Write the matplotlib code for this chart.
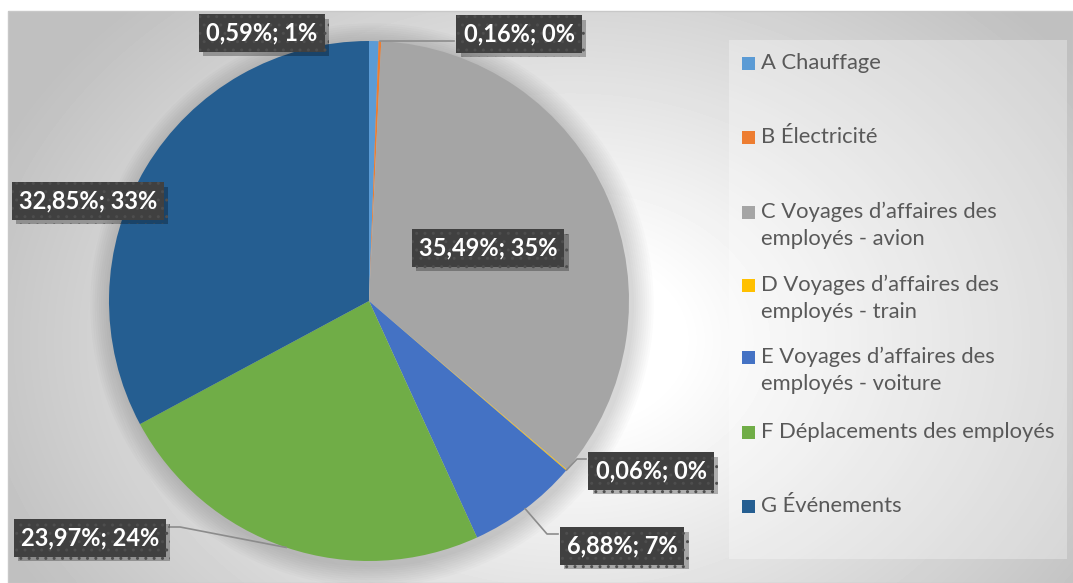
import numpy as np
import matplotlib.pyplot as plt
from matplotlib.patches import Rectangle, Circle
import matplotlib.patheffects as pe

categories = ['A Chauffage', 'B Électricité',
              'C Voyages d’affaires des\nemployés - avion',
              'D Voyages d’affaires des\nemployés - train',
              'E Voyages d’affaires des\nemployés - voiture',
              'F Déplacements des employés', 'G Événements']
values = [0.59, 0.16, 35.49, 0.06, 6.88, 23.97, 32.85]
colors = ['#5B9BD5', '#ED7D31', '#A5A5A5', '#FFC000', '#4472C4', '#70AD47', '#255E91']

# layout in pixels (y measured from the top)
W, H = 1073, 583
cx, cy, R = 369, 301, 260
label_pos = [(262, 33), (519, 34), (488, 248), (651, 471), (622, 546), (90, 538), (88, 201)]
leaders = {1: [(454, 40)], 3: [(577, 459), (586, 459)],
           4: [(547, 534), (558, 534)], 5: [(180, 527), (169, 527)]}
legend_y = [63, 137, 212, 285, 357, 432, 506]

fig = plt.figure(figsize=(W / 100, H / 100), dpi=100)
ax = fig.add_axes([0, 0, 1, 1])

# radial gradient background
xx, yy = np.meshgrid(np.arange(8, W), np.arange(11, H))
d = np.sqrt(((xx - 570) / 1.0) ** 2 + ((yy - 340) / 0.75) ** 2)
shade = 1 - np.clip((d - 110) / 520, 0, 1) * 0.25
ax.imshow(shade, cmap='gray', vmin=0, vmax=1, extent=(8, W, 0, H - 11),
          origin='upper', zorder=0, interpolation='bilinear')
ax.add_patch(Rectangle((8, 0), W - 8, H - 11, fill=False, ec='#c8c8c8', lw=1, zorder=1))

# soft shadow under the pie
for k in range(10):
    ax.add_patch(Circle((cx + 3, H - cy - 4), R + 2 + k * 2.2, fc='black',
                        alpha=0.016, ec='none', zorder=1))

wedges, _ = ax.pie(values, colors=colors, startangle=90, counterclock=False,
                   center=(cx, H - cy), radius=R, wedgeprops=dict(linewidth=0))
for w in wedges:
    w.set_zorder(2)

# leader lines
for i, pts in leaders.items():
    w = wedges[i]
    mid = np.deg2rad((w.theta1 + w.theta2) / 2)
    sx, sy = cx + R * np.cos(mid), H - cy + R * np.sin(mid)
    xs = [sx] + [p[0] for p in pts]
    ys = [sy] + [H - p[1] for p in pts]
    if i == 1:
        ys[-1] = sy
    ax.plot(xs, ys, color='#8c8c8c', lw=1.2, zorder=3)

# data labels
for v, (lx, ly) in zip(values, label_pos):
    s = f"{v:.2f}".replace('.', ',') + f"%; {round(v)}%"
    t = ax.text(lx, H - ly, s, ha='center', va='center', fontsize=17, fontweight='bold',
                family='Lato', color='white', zorder=5,
                bbox=dict(boxstyle='square,pad=0.3', fc='#404040', ec='#4e4e4e', lw=0, hatch='..'))
    t.get_bbox_patch().set_path_effects([
        pe.SimplePatchShadow(offset=(3, -3), shadow_rgbFace='black', alpha=0.28), pe.Normal()])

# legend
ax.add_patch(Rectangle((729, H - 559), 338, 519, fc='white', alpha=0.3, ec='none', zorder=1))
for name, c, y in zip(categories, colors, legend_y):
    ax.add_patch(Rectangle((742, H - y - 7), 13, 13, fc=c, ec='none', zorder=3))
    for j, line in enumerate(name.split('\n')):
        ax.text(761, H - y - j * 27, line, ha='left', va='center', fontsize=15.8,
                family='Lato', color='#595959', zorder=3)

ax.set_xlim(0, W)
ax.set_ylim(0, H)
ax.set_aspect('equal')
ax.axis('off')
fig.savefig('out.png', dpi=100)
